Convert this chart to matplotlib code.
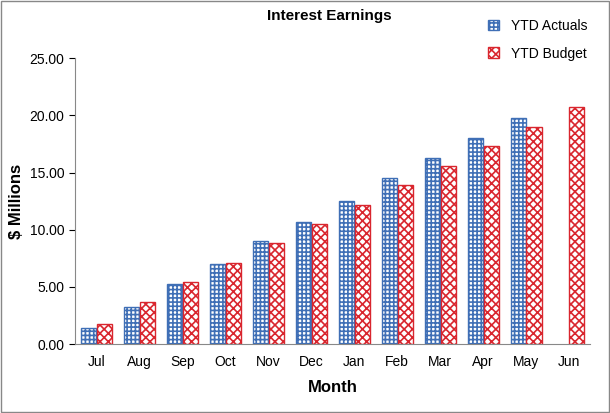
import matplotlib
matplotlib.use("Agg")
import matplotlib.pyplot as plt
import numpy as np
from matplotlib.patches import Patch

plt.rcParams["font.family"] = ["Liberation Sans", "DejaVu Sans"]
plt.rcParams["hatch.linewidth"] = 1.2

months = ["Jul", "Aug", "Sep", "Oct", "Nov", "Dec", "Jan", "Feb", "Mar", "Apr", "May", "Jun"]
actuals = [1.40, 3.20, 5.25, 7.00, 9.05, 10.70, 12.55, 14.55, 16.30, 18.00, 19.75, np.nan]
budget = [1.75, 3.65, 5.45, 7.05, 8.80, 10.50, 12.20, 13.95, 15.60, 17.30, 19.00, 20.70]
yticks = [0, 5, 10, 15, 20, 25]

BLUE = "#3F6FB6"; RED = "#D9262E"
fig = plt.figure(figsize=(6.10, 4.13), dpi=100)
ax = fig.add_axes([0.123, 0.167, 0.845, 0.692])
x = np.arange(len(months)); w = 0.35
ax.bar(x - w/2 - 0.01, actuals, w, facecolor="white", edgecolor=BLUE, hatch="++++", lw=1.0)
ax.bar(x + w/2 + 0.01, budget, w, facecolor="white", edgecolor=RED, hatch="xxxx", lw=1.0)
ax.set_xlim(-0.5, len(months) - 0.5)
ax.set_ylim(0, 25)
ax.set_yticks(yticks)
ax.set_yticklabels([f"{v:.2f}" for v in yticks], fontsize=10)
ax.set_xticks(x)
ax.set_xticklabels(months, fontsize=10)
ax.tick_params(axis="x", length=0, pad=8)
ax.tick_params(axis="y", length=4, direction="out")
for s in ("top", "right"):
    ax.spines[s].set_visible(False)
ax.spines["left"].set_color("#888"); ax.spines["bottom"].set_color("#888")
ax.set_xlabel("Month", fontsize=12, weight="bold", labelpad=8)
ax.set_ylabel("$ Millions", fontsize=12, weight="bold")
fig.text(0.54, 0.962, "Interest Earnings", ha="center", va="center", fontsize=11, weight="bold")
handles = [Patch(facecolor="white", edgecolor=BLUE, hatch="++++", label="YTD Actuals"),
           Patch(facecolor="white", edgecolor=RED, hatch="xxxx", label="YTD Budget")]
fig.legend(handles=handles, loc="upper left", bbox_to_anchor=(0.78, 0.985), frameon=False,
           fontsize=10, labelspacing=1.0, handlelength=0.8, handleheight=0.8)
fig.patches.append(plt.Rectangle((0.002, 0.002), 0.996, 0.996, transform=fig.transFigure,
                                 fill=False, edgecolor="#888", lw=1))
fig.savefig("out.png", dpi=100)
